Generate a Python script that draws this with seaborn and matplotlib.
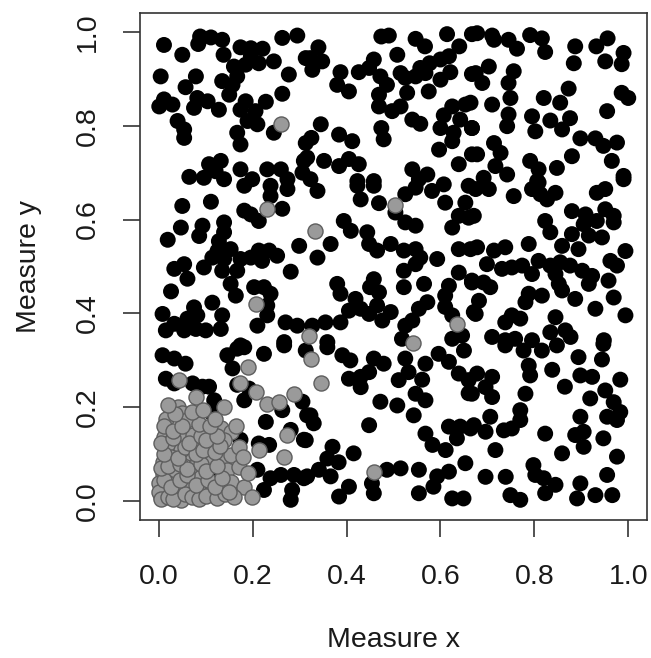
import matplotlib
matplotlib.use("Agg")
import matplotlib.pyplot as plt
import seaborn as sns
import pandas as pd

# ---- data ----
black_pts = [
    (0.088,0.990),(0.111,0.988),(0.135,0.983),(0.084,0.974),(0.011,0.972),(0.050,0.951),(0.138,0.951),
    (0.174,0.967),(0.196,0.965),(0.221,0.964),(0.263,0.987),(0.295,0.992),(0.313,0.944),(0.196,0.948),
    (0.185,0.930),(0.160,0.926),(0.213,0.933),(0.245,0.937),(0.277,0.909),(0.004,0.905),(0.079,0.905),
    (0.057,0.882),(0.135,0.895),(0.167,0.905),(0.157,0.887),(0.150,0.866),(0.263,0.868),(0.011,0.856),
    (0.029,0.845),(0.001,0.841),(0.082,0.859),(0.104,0.852),(0.075,0.838),(0.128,0.834),(0.185,0.852),
    (0.228,0.851),(0.206,0.831),(0.174,0.834),(0.189,0.810),(0.210,0.803),(0.040,0.810),(0.054,0.792),
    (0.054,0.774),(0.167,0.785),(0.174,0.760),(0.245,0.785),(0.313,0.763),(0.309,0.725),(0.107,0.718),
    (0.132,0.725),(0.065,0.691),(0.096,0.689),(0.121,0.703),(0.139,0.686),(0.174,0.707),(0.199,0.686),
    (0.231,0.707),(0.260,0.707),(0.274,0.686),(0.306,0.700),
    (0.474,0.990),(0.490,0.992),(0.547,0.985),(0.567,0.969),(0.614,0.995),(0.667,0.995),(0.640,0.969),
    (0.618,0.948),(0.600,0.941),(0.577,0.933),(0.557,0.923),(0.568,0.912),(0.600,0.898),(0.621,0.914),
    (0.667,0.910),(0.340,0.967),(0.323,0.944),(0.348,0.937),(0.327,0.919),(0.508,0.951),(0.458,0.941),
    (0.448,0.923),(0.426,0.914),(0.387,0.914),(0.380,0.887),(0.405,0.873),(0.472,0.905),(0.486,0.887),
    (0.515,0.912),(0.525,0.902),(0.547,0.905),(0.575,0.873),(0.469,0.866),(0.529,0.870),(0.469,0.841),
    (0.497,0.831),(0.515,0.841),(0.540,0.813),(0.557,0.804),(0.625,0.841),(0.653,0.845),(0.607,0.822),
    (0.642,0.813),(0.667,0.795),(0.600,0.795),(0.628,0.785),(0.625,0.767),(0.597,0.749),(0.667,0.739),
    (0.639,0.718),(0.474,0.795),(0.479,0.771),(0.345,0.803),(0.325,0.774),(0.384,0.781),(0.412,0.767),
    (0.316,0.732),(0.352,0.725),(0.384,0.714),(0.405,0.729),(0.426,0.718),(0.540,0.707),(0.572,0.696),
    (0.554,0.686),(0.423,0.682),(0.458,0.682),(0.323,0.686),
    (0.678,0.997),(0.710,0.992),(0.714,0.983),(0.745,0.983),(0.763,0.964),(0.791,0.993),(0.816,0.986),
    (0.823,0.957),(0.887,0.969),(0.884,0.933),(0.932,0.969),(0.956,0.986),(0.951,0.937),(0.990,0.955),
    (0.986,0.931),(0.703,0.926),(0.675,0.912),(0.689,0.891),(0.756,0.916),(0.745,0.891),(0.749,0.859),
    (0.710,0.845),(0.664,0.849),(0.820,0.859),(0.855,0.849),(0.873,0.879),(0.986,0.870),(1.000,0.859),
    (0.955,0.831),(0.745,0.824),(0.742,0.799),(0.795,0.820),(0.802,0.788),(0.834,0.811),(0.876,0.816),
    (0.859,0.792),(0.667,0.795),(0.714,0.763),(0.728,0.742),(0.678,0.739),(0.717,0.714),(0.742,0.696),
    (0.692,0.689),(0.791,0.725),(0.809,0.707),(0.848,0.710),(0.880,0.735),(0.898,0.773),(0.930,0.773),
    (0.947,0.757),(0.976,0.764),(0.965,0.725),(0.990,0.693),(0.806,0.682),
    (0.182,0.672),(0.238,0.672),(0.274,0.665),(0.238,0.650),(0.050,0.629),(0.111,0.638),(0.182,0.619),
    (0.196,0.611),(0.213,0.597),(0.263,0.623),(0.047,0.583),(0.093,0.587),(0.086,0.565),(0.139,0.594),
    (0.139,0.573),(0.019,0.557),(0.128,0.554),(0.125,0.533),(0.153,0.537),(0.114,0.519),(0.139,0.516),
    (0.174,0.516),(0.196,0.519),(0.213,0.534),(0.235,0.534),(0.252,0.523),(0.220,0.512),(0.299,0.544),
    (0.054,0.505),(0.033,0.495),(0.061,0.474),(0.096,0.498),(0.135,0.491),(0.167,0.491),(0.281,0.489),
    (0.153,0.463),(0.164,0.438),(0.203,0.456),(0.224,0.456),(0.238,0.442),(0.026,0.447),(0.114,0.423),
    (0.075,0.413),(0.231,0.417),(0.231,0.396),(0.008,0.399),(0.033,0.378),(0.061,0.389),(0.082,0.396),
    (0.015,0.364),(0.054,0.364),(0.079,0.367),(0.100,0.364),(0.135,0.396),(0.132,0.367),(0.210,0.374),
    (0.270,0.381),(0.295,0.374),(0.267,0.339),(0.174,0.332),
    (0.338,0.661),(0.423,0.672),(0.458,0.672),(0.430,0.643),(0.469,0.635),(0.504,0.615),(0.525,0.654),
    (0.547,0.668),(0.582,0.661),(0.607,0.675),(0.610,0.636),(0.660,0.672),(0.653,0.636),(0.639,0.608),
    (0.660,0.604),(0.625,0.583),(0.525,0.594),(0.547,0.587),(0.394,0.597),(0.409,0.576),(0.444,0.573),
    (0.448,0.548),(0.465,0.534),(0.494,0.548),(0.366,0.548),(0.338,0.519),(0.522,0.534),(0.547,0.537),
    (0.557,0.519),(0.593,0.516),(0.547,0.505),(0.522,0.491),(0.639,0.537),(0.664,0.537),(0.639,0.487),
    (0.667,0.466),(0.380,0.463),(0.387,0.442),(0.458,0.473),(0.450,0.456),(0.469,0.445),(0.522,0.456),
    (0.565,0.463),(0.618,0.459),(0.610,0.438),(0.419,0.431),(0.405,0.406),(0.430,0.410),(0.448,0.399),
    (0.465,0.417),(0.494,0.403),(0.476,0.385),(0.554,0.410),(0.572,0.424),(0.540,0.385),(0.525,0.374),
    (0.610,0.414),(0.625,0.396),(0.671,0.403),(0.355,0.381),(0.387,0.381),(0.646,0.353),(0.625,0.346),
    (0.518,0.346),(0.359,0.339),(0.327,0.374),
    (0.675,0.665),(0.703,0.665),(0.756,0.650),(0.795,0.665),(0.813,0.654),(0.827,0.643),(0.845,0.657),
    (0.809,0.679),(0.933,0.657),(0.951,0.665),(0.990,0.686),(0.671,0.608),(0.823,0.597),(0.834,0.573),
    (0.880,0.618),(0.909,0.611),(0.905,0.590),(0.933,0.597),(0.951,0.622),(0.969,0.608),(0.969,0.594),
    (0.880,0.569),(0.916,0.566),(0.944,0.562),(0.678,0.541),(0.714,0.534),(0.738,0.541),(0.788,0.548),
    (0.859,0.544),(0.894,0.537),(0.994,0.533),(0.699,0.505),(0.731,0.495),(0.752,0.498),(0.774,0.502),
    (0.809,0.512),(0.834,0.502),(0.855,0.509),(0.876,0.502),(0.795,0.484),(0.845,0.484),(0.902,0.491),
    (0.923,0.480),(0.962,0.512),(0.976,0.502),(0.667,0.470),(0.692,0.466),(0.706,0.456),(0.852,0.463),
    (0.859,0.449),(0.916,0.463),(0.958,0.470),(0.788,0.442),(0.781,0.424),(0.816,0.438),(0.887,0.431),
    (0.969,0.434),(0.682,0.427),(0.675,0.399),(0.930,0.410),(0.994,0.396),(0.752,0.396),(0.738,0.381),
    (0.770,0.389),(0.845,0.392),(0.834,0.360),(0.866,0.364),(0.877,0.350),(0.710,0.350),(0.738,0.343),
    (0.759,0.346),(0.795,0.343),(0.948,0.343),
    (0.008,0.311),(0.033,0.304),(0.057,0.293),(0.015,0.261),(0.033,0.251),(0.072,0.251),(0.093,0.244),
    (0.107,0.244),(0.146,0.311),(0.157,0.283),(0.167,0.325),(0.182,0.328),(0.224,0.314),(0.267,0.332),
    (0.313,0.321),(0.167,0.248),(0.182,0.215),(0.192,0.240),(0.118,0.215),(0.114,0.187),(0.228,0.169),
    (0.263,0.194),(0.306,0.212),(0.316,0.183),(0.281,0.152),(0.309,0.131),(0.174,0.131),(0.213,0.123),
    (0.235,0.120),(0.125,0.052),(0.210,0.067),(0.238,0.049),(0.224,0.024),(0.260,0.056),(0.288,0.056),
    (0.309,0.049),(0.284,0.024),(0.281,0.003),
    (0.359,0.328),(0.391,0.311),(0.408,0.300),(0.458,0.304),(0.479,0.293),(0.525,0.304),(0.405,0.261),
    (0.430,0.265),(0.448,0.275),(0.430,0.243),(0.511,0.258),(0.532,0.275),(0.561,0.259),(0.568,0.293),
    (0.596,0.314),(0.618,0.297),(0.650,0.321),(0.639,0.272),(0.660,0.258),(0.660,0.230),(0.547,0.229),
    (0.568,0.215),(0.472,0.212),(0.508,0.204),(0.543,0.183),(0.323,0.183),(0.330,0.166),(0.313,0.130),
    (0.448,0.162),(0.568,0.144),(0.583,0.120),(0.611,0.109),(0.618,0.159),(0.642,0.159),(0.664,0.155),
    (0.635,0.134),(0.370,0.116),(0.415,0.102),(0.359,0.091),(0.383,0.083),(0.341,0.067),(0.366,0.053),
    (0.405,0.031),(0.384,0.010),(0.316,0.053),(0.486,0.067),(0.515,0.070),(0.454,0.038),(0.458,0.017),
    (0.554,0.067),(0.554,0.017),(0.593,0.053),(0.585,0.031),(0.618,0.063),(0.653,0.081),(0.625,0.006),
    (0.649,0.006),
    (0.738,0.332),(0.777,0.321),(0.816,0.321),(0.848,0.332),(0.947,0.335),(0.788,0.289),(0.791,0.268),
    (0.838,0.280),(0.894,0.307),(0.944,0.302),(0.898,0.268),(0.923,0.265),(0.983,0.259),(0.678,0.272),
    (0.710,0.265),(0.696,0.243),(0.710,0.222),(0.667,0.229),(0.781,0.229),(0.865,0.244),(0.919,0.219),
    (0.951,0.236),(0.969,0.211),(0.983,0.190),(0.955,0.180),(0.976,0.173),(0.770,0.194),(0.770,0.173),
    (0.706,0.180),(0.898,0.180),(0.671,0.162),(0.696,0.148),(0.735,0.151),(0.752,0.155),(0.823,0.144),
    (0.887,0.141),(0.905,0.148),(0.905,0.116),(0.947,0.134),(0.717,0.109),(0.859,0.102),(0.976,0.095),
    (0.798,0.077),(0.802,0.056),(0.820,0.049),(0.845,0.035),(0.696,0.052),(0.739,0.052),(0.749,0.013),
    (0.770,0.003),(0.823,0.017),(0.898,0.038),(0.891,0.006),(0.930,0.013),(0.955,0.056),(0.966,0.013),
]

grey_pts = [
    (0.260,0.804),(0.230,0.623),(0.333,0.576),(0.206,0.420),(0.320,0.353),(0.504,0.631),(0.635,0.378),
    (0.541,0.338),(0.324,0.304),(0.345,0.251),(0.458,0.063),
    (0.043,0.258),(0.174,0.251),(0.189,0.286),(0.206,0.233),(0.231,0.208),(0.256,0.212),(0.288,0.229),
    (0.139,0.200),(0.079,0.222),(0.040,0.201),(0.050,0.187),(0.061,0.173),(0.015,0.176),(0.274,0.141),
    (0.267,0.095),(0.213,0.109),(0.011,0.137),(0.022,0.123),(0.054,0.137),(0.072,0.141),(0.086,0.127),
    (0.114,0.144),(0.132,0.155),(0.153,0.148),(0.139,0.131),(0.104,0.116),(0.068,0.102),(0.047,0.109),
    (0.026,0.095),(0.008,0.084),(0.008,0.059),(0.033,0.063),(0.075,0.074),(0.111,0.084),(0.139,0.091),
    (0.153,0.098),(0.146,0.067),(0.171,0.074),(0.089,0.052),(0.068,0.035),(0.040,0.024),(0.019,0.038),
    (0.004,0.010),(0.047,0.003),(0.093,0.024),(0.111,0.017),(0.153,0.042),(0.182,0.031),(0.199,0.010),
    (0.001,0.038),(0.000,0.020),
    (0.005,0.005),(0.020,0.010),(0.030,0.004),(0.055,0.015),(0.070,0.008),(0.085,0.004),(0.100,0.012),
    (0.125,0.006),(0.140,0.015),(0.160,0.010),(0.010,0.045),(0.025,0.030),(0.045,0.045),(0.060,0.055),
    (0.080,0.035),(0.105,0.045),(0.120,0.030),(0.135,0.050),(0.150,0.020),(0.005,0.070),(0.020,0.075),
    (0.045,0.080),(0.060,0.068),(0.090,0.080),(0.100,0.065),(0.125,0.075),(0.010,0.100),(0.040,0.092),
    (0.055,0.115),(0.080,0.100),(0.095,0.110),(0.120,0.105),(0.130,0.118),(0.005,0.125),(0.030,0.135),
    (0.065,0.125),(0.090,0.140),(0.100,0.130),(0.125,0.140),(0.010,0.160),(0.030,0.150),(0.050,0.160),
    (0.085,0.165),(0.110,0.160),(0.035,0.185),(0.070,0.190),(0.095,0.195),(0.120,0.175),(0.170,0.115),
    (0.190,0.060),(0.165,0.160),(0.020,0.205),(0.180,0.095),
]

x_ticks = [0.0, 0.2, 0.4, 0.6, 0.8, 1.0]
y_ticks = [0.0, 0.2, 0.4, 0.6, 0.8, 1.0]
tick_labels = ["0.0", "0.2", "0.4", "0.6", "0.8", "1.0"]

black_df = pd.DataFrame(black_pts, columns=["x", "y"])
grey_df = pd.DataFrame(grey_pts, columns=["x", "y"])

sns.set_style("white")
plt.rcParams["font.family"] = ["Liberation Sans", "DejaVu Sans"]

fig = plt.figure(figsize=(6.51, 6.58), dpi=100)
ax = fig.add_axes([0.2151, 0.2097, 0.7788, 0.7705])

sns.scatterplot(data=black_df, x="x", y="y", ax=ax, color="black", s=132,
                linewidth=0, edgecolor="none", zorder=2)
sns.scatterplot(data=grey_df, x="x", y="y", ax=ax, color="#9a9a9a", s=118,
                linewidth=1.0, edgecolor="#5e5e5e", zorder=3)

ax.set_xlim(-0.04, 1.04)
ax.set_ylim(-0.04, 1.04)
ax.set_xticks(x_ticks)
ax.set_xticklabels(tick_labels)
ax.set_yticks(y_ticks)
ax.set_yticklabels(tick_labels, rotation=90, va="center")
ax.tick_params(axis="both", direction="out", length=12, width=1.2, color="#333333",
               labelsize=20.5, bottom=True, left=True, labelcolor="#1a1a1a")
ax.tick_params(axis="x", pad=20)
ax.tick_params(axis="y", pad=16)
for sp in ax.spines.values():
    sp.set_visible(True)
    sp.set_color("#333333")
    sp.set_linewidth(1.2)

ax.set_xlabel("Measure x", fontsize=20.5, labelpad=26, color="#1a1a1a")
ax.set_ylabel("Measure y", fontsize=20.5, labelpad=24, color="#1a1a1a")

fig.savefig("out.png", dpi=100)
